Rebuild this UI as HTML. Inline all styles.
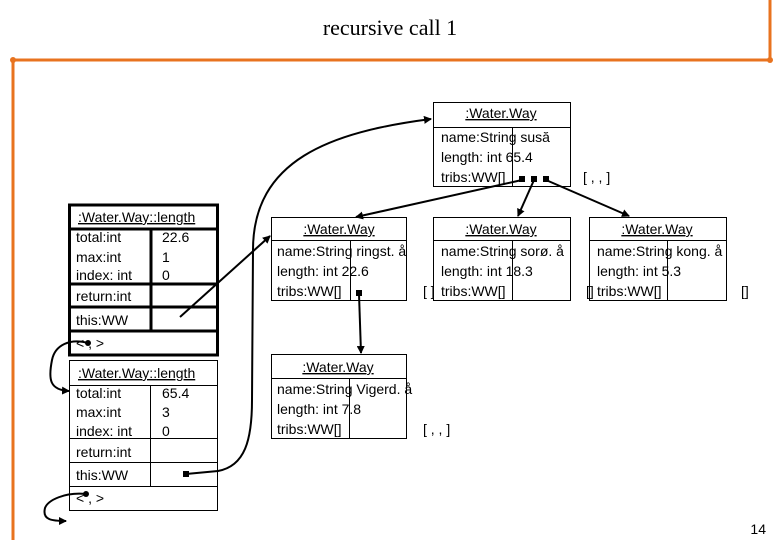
<!DOCTYPE html>
<html><head><meta charset="utf-8"><style>
html,body{margin:0;padding:0;background:#fff;}
svg{display:block;}
text{font-family:"Liberation Sans",sans-serif;font-size:14px;fill:#000;}
.t{font-family:"Liberation Serif",serif;font-size:22px;}
</style></head><body>
<svg width="780" height="540" viewBox="0 0 780 540" xmlns="http://www.w3.org/2000/svg">
<defs><marker id="a" markerWidth="8" markerHeight="8" refX="7" refY="4" orient="auto" markerUnits="userSpaceOnUse"><path d="M0,0 L8,4 L0,8 z" fill="#000"/></marker></defs>
<!-- orange frame -->
<g stroke="#e8731f" stroke-width="3" fill="none">
<line x1="12" y1="60" x2="771" y2="60"/><line x1="13" y1="60" x2="13" y2="540"/><line x1="770" y1="0" x2="770" y2="60"/>
</g>
<circle cx="13" cy="60" r="3" fill="#e8731f"/><circle cx="770" cy="60" r="3" fill="#e8731f"/>
<text class="t" x="390" y="35" text-anchor="middle">recursive call 1</text>
<text x="766" y="534" font-size="12" text-anchor="end">14</text>

<!-- top box -->
<g fill="none" stroke="#000" stroke-width="1">
<rect x="433.5" y="102.5" width="137" height="84"/><line x1="433" y1="127.5" x2="570" y2="127.5"/><line x1="512.5" y1="127" x2="512.5" y2="186"/>
<rect x="271.5" y="217.5" width="135" height="83"/><line x1="271" y1="240.5" x2="406" y2="240.5"/><line x1="350.5" y1="240" x2="350.5" y2="300"/>
<rect x="433.5" y="217.5" width="137" height="83"/><line x1="433" y1="240.5" x2="570" y2="240.5"/><line x1="512.5" y1="240" x2="512.5" y2="300"/>
<rect x="589.5" y="217.5" width="137" height="83"/><line x1="589" y1="240.5" x2="726" y2="240.5"/><line x1="667.5" y1="240" x2="667.5" y2="300"/>
<rect x="271.5" y="354.5" width="135" height="84"/><line x1="271" y1="378.5" x2="406" y2="378.5"/><line x1="349.5" y1="378" x2="349.5" y2="438"/>
</g>
<g text-anchor="middle" text-decoration="underline">
<text x="501" y="118">:Water.Way</text>
<text x="339" y="234">:Water.Way</text>
<text x="501" y="234">:Water.Way</text>
<text x="657" y="234">:Water.Way</text>
<text x="338" y="372">:Water.Way</text>
</g>
<text x="441" y="142">name:String susă</text><text x="441" y="162">length: int 65.4</text><text x="441" y="182">tribs:WW[]</text>
<text x="583" y="182">[ ,  ,  ]</text>
<text x="277" y="256">name:String ringst. å</text><text x="277" y="276">length: int 22.6</text><text x="277" y="296">tribs:WW[]</text>
<text x="423" y="296">[ ]</text>
<text x="441" y="256">name:String sorø. å</text><text x="441" y="276">length: int 18.3</text><text x="441" y="296">tribs:WW[]</text>
<text x="586" y="296">[]</text>
<text x="597" y="256">name:String kong. å</text><text x="597" y="276">length: int 5.3</text><text x="597" y="296">tribs:WW[]</text>
<text x="741" y="296">[]</text>
<text x="277" y="394">name:String Vigerd. å</text><text x="277" y="414">length: int 7.8</text><text x="277" y="434">tribs:WW[]</text>
<text x="423" y="434">[ ,  ,  ]</text>

<!-- left frame boxes -->
<g fill="none" stroke="#000" stroke-width="3">
<rect x="69.5" y="205" width="148" height="150"/><line x1="69" y1="229" x2="218" y2="229"/><line x1="151" y1="229" x2="151" y2="331"/>
<line x1="69" y1="284" x2="218" y2="284"/><line x1="69" y1="307" x2="218" y2="307"/><line x1="69" y1="331" x2="218" y2="331"/>
</g>
<g fill="none" stroke="#000" stroke-width="1">
<rect x="69.5" y="360.5" width="148" height="150"/><line x1="69" y1="385.5" x2="218" y2="385.5"/><line x1="150.5" y1="385" x2="150.5" y2="486"/>
<line x1="69" y1="438.5" x2="218" y2="438.5"/><line x1="69" y1="462.5" x2="218" y2="462.5"/><line x1="69" y1="486.5" x2="218" y2="486.5"/>
</g>
<text x="78" y="222" text-decoration="underline">:Water.Way::length</text>
<text x="76" y="242">total:int</text><text x="76" y="262">max:int</text><text x="76" y="280">index: int</text>
<text x="162" y="242">22.6</text><text x="162" y="262">1</text><text x="162" y="280">0</text>
<text x="76" y="301">return:int</text><text x="76" y="325">this:WW</text>
<text x="76" y="348">&lt;   ,    &gt;</text>
<text x="78" y="378" text-decoration="underline">:Water.Way::length</text>
<text x="76" y="398">total:int</text><text x="76" y="417">max:int</text><text x="76" y="436">index: int</text>
<text x="162" y="398">65.4</text><text x="162" y="417">3</text><text x="162" y="436">0</text>
<text x="76" y="457">return:int</text><text x="76" y="480">this:WW</text>
<text x="76" y="503">&lt;   ,    &gt;</text>

<!-- connectors -->
<g fill="none" stroke="#000" stroke-width="2" marker-end="url(#a)">
<line x1="522" y1="180" x2="356" y2="217"/>
<line x1="534" y1="180" x2="518" y2="216"/>
<line x1="546" y1="180" x2="629" y2="216"/>
<line x1="359" y1="294" x2="361" y2="353"/>
<line x1="180" y1="317" x2="270" y2="236"/>
<path d="M186,474 L218,471 C245,466 252,440 252,400 L253,250 C253,160 330,132 431,119"/>
<path d="M88,343 C70,338 55,345 52,360 C48,380 50,390 69,391"/>
<path d="M86,494 C65,492 48,500 45,508 C42,520 52,521 66,521"/>
</g>
<g fill="#000">
<rect x="519" y="176" width="6" height="6"/><rect x="531" y="176" width="6" height="6"/><rect x="543" y="176" width="6" height="6"/>
<rect x="356" y="290" width="6" height="6"/>
<rect x="183" y="471" width="6" height="6"/>
<circle cx="88" cy="343" r="3"/><circle cx="86" cy="494" r="3"/>
</g>
</svg>
</body></html>
